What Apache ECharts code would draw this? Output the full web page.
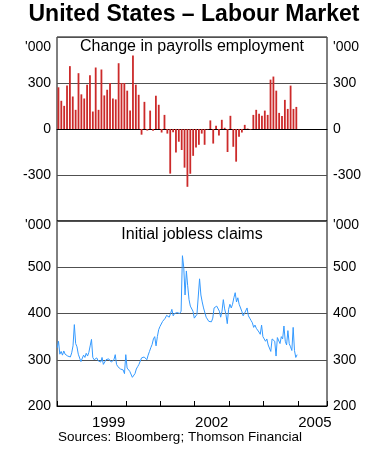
<!DOCTYPE html>
<html><head><meta charset="utf-8">
<script src="https://cdn.jsdelivr.net/npm/echarts@6/dist/echarts.min.js"></script>
<style>html,body{margin:0;padding:0;background:#fff}#c{width:388px;height:462px}</style>
</head><body><div id="c"></div>
<script>
// Monthly change in non-farm payrolls ('000), Jan 1998 .. Dec 2004
const payrollStartYear = 1998;
const payrolls = [
  272,184,151,283,410,212,125,364,226,199,289,350,
  114,401,125,388,219,256,300,199,193,429,300,300,
  250,120,480,289,223,-37,177,-10,120,-12,217,158,
  -23,92,-30,-291,-22,-153,-83,-137,-252,-377,-292,-175,
  -120,-103,-30,-103,-3,56,-95,21,-43,60,8,-150,
  86,-116,-213,-51,-23,27,3,-4,92,125,99,86,
  120,92,322,342,250,105,85,190,131,283,131,144
];
// Initial jobless claims ('000), fortnightly readings from 3 Jan 1998
const claimsStart = '1998-01-03';
const claimsStepDays = 14;
const claims = [
  326,340,312,318,310,319,312,316,308,312,306,315,330,376,335,328,312,308,296,300,310,305,314,308,316,330,
  344,305,300,296,304,298,302,295,305,290,292,300,296,302,305,295,293,300,311,290,285,282,280,283,278,270,
  311,282,278,275,272,262,258,270,280,285,290,294,304,300,306,303,300,310,318,326,333,345,350,330,350,365,
  372,368,383,385,390,396,398,392,400,409,395,400,396,402,398,400,405,525,500,440,492,460,430,416,420,405,390,390,398,398,
  475,440,425,412,408,392,388,383,386,382,390,412,410,416,412,405,392,405,430,410,398,378,409,420,412,420,434,445,
  425,434,420,418,405,395,400,398,412,395,390,385,380,370,375,368,372,360,355,375,350,345,340,345,332,335,318,345,345,340,
  308,348,345,335,350,345,373,340,332,363,335,328,320,370,320,305,311
];
const yearLabels = [1999, 2002, 2005];
const topTicks = [-300, 0, 300];
const bottomTicks = [200, 300, 400, 500];

function decYear(d) {
  const y = d.getUTCFullYear();
  const a = Date.UTC(y, 0, 1), b = Date.UTC(y + 1, 0, 1);
  return y + (d.getTime() - a) / (b - a);
}
const barData = payrolls.map((v, i) => [payrollStartYear + (i + 0.5) / 12, v]);
const t0 = new Date(claimsStart + 'T00:00:00Z').getTime();
const lineData = claims.map((v, i) => [decYear(new Date(t0 + i * claimsStepDays * 86400000)), v]);

const FONT = 'Liberation Sans, Arial, sans-serif';
const chart = echarts.init(document.getElementById('c'), null, {renderer: 'canvas'});
const gridStyle = {show: true, borderColor: '#000', borderWidth: 1, backgroundColor: 'transparent'};
const splitLine = {show: true, lineStyle: {color: '#505050', width: 1}};
const lbl = {color: '#000', fontSize: 14, fontFamily: FONT, margin: 6};

chart.setOption({
  animation: false,
  grid: [
    Object.assign({left: 57, top: 37, width: 270, height: 184}, gridStyle),
    Object.assign({left: 57, top: 221, width: 270, height: 185}, gridStyle)
  ],
  xAxis: [
    {gridIndex: 0, type: 'value', min: 1998, max: 2005.85, interval: 1,
     axisLine: {show: true, onZero: true, lineStyle: {color: '#000', width: 1}},
     axisTick: {show: false}, axisLabel: {show: false}, splitLine: {show: false}},
    {gridIndex: 1, type: 'value', min: 1998, max: 2005.85, interval: 1,
     axisLine: {show: true, onZero: false, lineStyle: {color: '#000', width: 1}},
     axisTick: {show: true, inside: true, length: 5, lineStyle: {color: '#000'}},
     axisLabel: Object.assign({}, lbl, {customValues: yearLabels.map(y => y + 0.5),
       formatter: v => String(Math.floor(v)), margin: 9, fontSize: 15}),
     splitLine: {show: false}}
  ],
  yAxis: [
    {gridIndex: 0, type: 'value', min: -600, max: 600, interval: 300, position: 'left',
     axisLine: {show: false}, axisTick: {show: false}, splitLine: splitLine,
     axisLabel: Object.assign({}, lbl, {formatter: v => topTicks.includes(v) ? String(v) : ''})},
    {gridIndex: 0, type: 'value', min: -600, max: 600, interval: 300, position: 'right',
     axisLine: {show: false}, axisTick: {show: false}, splitLine: {show: false},
     axisLabel: Object.assign({}, lbl, {formatter: v => topTicks.includes(v) ? String(v) : ''})},
    {gridIndex: 1, type: 'value', min: 200, max: 600, interval: 100, position: 'left',
     axisLine: {show: false}, axisTick: {show: false}, splitLine: splitLine,
     axisLabel: Object.assign({}, lbl, {formatter: v => bottomTicks.includes(v) ? String(v) : ''})},
    {gridIndex: 1, type: 'value', min: 200, max: 600, interval: 100, position: 'right',
     axisLine: {show: false}, axisTick: {show: false}, splitLine: {show: false},
     axisLabel: Object.assign({}, lbl, {formatter: v => bottomTicks.includes(v) ? String(v) : ''})}
  ],
  series: [
    {type: 'bar', xAxisIndex: 0, yAxisIndex: 0, data: barData, barWidth: 1.8,
     itemStyle: {color: '#cc2a2a'}, z: 1},
    {type: 'line', xAxisIndex: 1, yAxisIndex: 2, data: lineData, showSymbol: false,
     lineStyle: {color: '#3399ff', width: 1}, z: 3}
  ],
  graphic: [
    {type: 'text', left: 'center', top: 3, style: {text: 'United States \u2013 Labour Market', font: 'bold 23px ' + FONT, fill: '#000'}},
    {type: 'text', x: 192, y: 47, style: {text: 'Change in payrolls employment', font: '16px ' + FONT, fill: '#000', align: 'center', verticalAlign: 'middle'}},
    {type: 'text', x: 192, y: 235, style: {text: 'Initial jobless claims', font: '16px ' + FONT, fill: '#000', align: 'center', verticalAlign: 'middle'}},
    {type: 'text', x: 51, y: 47, style: {text: "'000", font: '14px ' + FONT, fill: '#000', align: 'right', verticalAlign: 'middle'}},
    {type: 'text', x: 333, y: 47, style: {text: "'000", font: '14px ' + FONT, fill: '#000', align: 'left', verticalAlign: 'middle'}},
    {type: 'text', x: 51, y: 225, style: {text: "'000", font: '14px ' + FONT, fill: '#000', align: 'right', verticalAlign: 'middle'}},
    {type: 'text', x: 333, y: 225, style: {text: "'000", font: '14px ' + FONT, fill: '#000', align: 'left', verticalAlign: 'middle'}},
    {type: 'text', x: 180, y: 437, style: {text: 'Sources: Bloomberg; Thomson Financial', font: '13.5px ' + FONT, fill: '#000', align: 'center', verticalAlign: 'middle'}}
  ]
});
</script></body></html>
